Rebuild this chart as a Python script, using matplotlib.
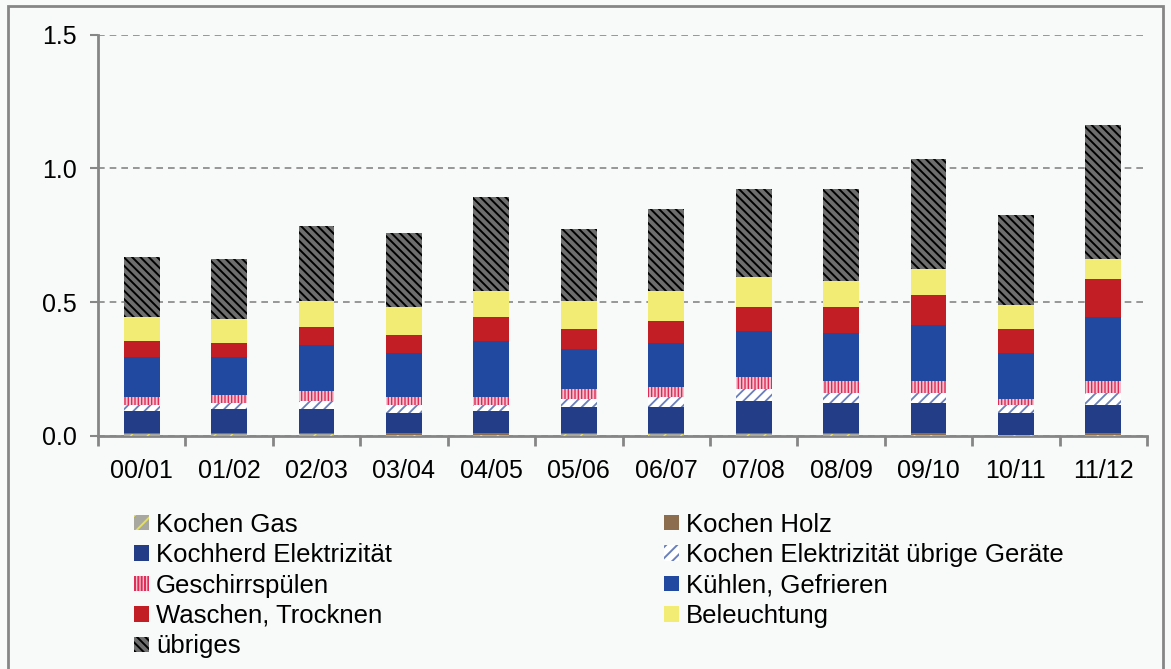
import numpy as np
import matplotlib
matplotlib.use("Agg")
import matplotlib.pyplot as plt
from matplotlib.patches import Patch, Rectangle

plt.rcParams['font.family'] = ['Liberation Sans', 'DejaVu Sans']

# Saison
jahre = ["00/01", "01/02", "02/03", "03/04", "04/05", "05/06",
         "06/07", "07/08", "08/09", "09/10", "10/11", "11/12"]

# Verbrauch je Verwendungszweck (gestapelt, von unten nach oben)
kochen_gas = [0.006, 0.006, 0.006, 0.002, 0.002, 0.006, 0.006, 0.006, 0.006, 0.002, 0.002, 0.002]
kochen_holz = [0.002, 0.002, 0.002, 0.006, 0.006, 0.002, 0.002, 0.002, 0.002, 0.006, 0.001, 0.006]
kochherd_elektr = [0.083, 0.090, 0.090, 0.075, 0.083, 0.098, 0.098, 0.121, 0.113, 0.113, 0.080, 0.105]
kochen_uebrige = [0.023, 0.023, 0.031, 0.030, 0.022, 0.030, 0.038, 0.045, 0.038, 0.038, 0.030, 0.046]
geschirr = [0.030, 0.031, 0.038, 0.031, 0.031, 0.038, 0.038, 0.045, 0.045, 0.045, 0.024, 0.045]
kuehlen = [0.149, 0.141, 0.171, 0.164, 0.209, 0.149, 0.163, 0.171, 0.179, 0.209, 0.171, 0.239]
waschen = [0.061, 0.052, 0.067, 0.067, 0.091, 0.076, 0.084, 0.091, 0.098, 0.112, 0.090, 0.142]
beleuchtung = [0.089, 0.090, 0.098, 0.105, 0.096, 0.105, 0.111, 0.111, 0.098, 0.097, 0.090, 0.075]
uebriges = [0.225, 0.225, 0.282, 0.278, 0.353, 0.269, 0.308, 0.331, 0.344, 0.414, 0.338, 0.503]

# name, werte, farbe, schraffur, schraffurfarbe, linienbreite
serien = [
    ("Kochen Gas", kochen_gas, '#a8a8a0', '//', '#e6df5a', 1.0),
    ("Kochen Holz", kochen_holz, '#8c6d4e', None, None, 1.0),
    ("Kochherd Elektrizität", kochherd_elektr, '#233e86', None, None, 1.0),
    ("Kochen Elektrizität übrige Geräte", kochen_uebrige, '#ffffff', '///', '#6a80bd', 1.3),
    ("Geschirrspülen", geschirr, '#f6c2cf', '|||||', '#e02a55', 1.0),
    ("Kühlen, Gefrieren", kuehlen, '#2149a0', None, None, 1.0),
    ("Waschen, Trocknen", waschen, '#c11f25', None, None, 1.0),
    ("Beleuchtung", beleuchtung, '#f2ec74', None, None, 1.0),
    ("übriges", uebriges, '#6e6e6e', '\\\\\\\\', '#000000', 1.4),
]

bg = '#f8f9f9'
grau = '#868686'

fig = plt.figure(figsize=(11.71, 6.69), dpi=100, facecolor=bg)
ax = fig.add_axes([0.0837, 0.349, 0.8958, 0.5987])
ax.set_facecolor(bg)

x = np.arange(len(jahre))
unten = np.zeros(len(jahre))
handles = []
for name, werte, farbe, hatch, hfarbe, hlw in serien:
    werte = np.array(werte)
    plt.rcParams['hatch.linewidth'] = hlw
    if hatch:
        bars = ax.bar(x, werte, 0.41, bottom=unten, color=farbe, hatch=hatch,
                      edgecolor=hfarbe, linewidth=0, zorder=3)
        h = Patch(facecolor=farbe, hatch=hatch, edgecolor=hfarbe, linewidth=0)
    else:
        bars = ax.bar(x, werte, 0.41, bottom=unten, color=farbe, linewidth=0, zorder=3)
        h = Patch(facecolor=farbe, linewidth=0)
    for b in list(bars) + [h]:
        if hasattr(b, 'set_hatch_linewidth'):
            b.set_hatch_linewidth(hlw)
    handles.append((name, h))
    unten += werte

ax.set_xlim(-0.5, len(jahre) - 0.5)
ax.set_ylim(0, 1.5)
ax.set_yticks([0, 0.5, 1.0, 1.5])
ax.set_yticklabels(["0.0", "0.5", "1.0", "1.5"])
ax.yaxis.grid(True, linestyle=(0, (4, 3)), color=grau, linewidth=1.2, zorder=0)

ax.set_xticks(x)
ax.set_xticklabels(jahre)
ax.set_xticks(np.arange(-0.5, len(jahre)), minor=True)
ax.tick_params(axis='x', which='major', length=0, pad=17, labelsize=18)
ax.tick_params(axis='x', which='minor', length=7, width=2, color=grau)
ax.tick_params(axis='y', length=6, width=1.5, color=grau, labelsize=18, pad=9)

for s in ['top', 'right']:
    ax.spines[s].set_visible(False)
for s in ['left', 'bottom']:
    ax.spines[s].set_color(grau)
    ax.spines[s].set_linewidth(2)

# Legende zeilenweise wie im Original
reihenfolge = [0, 2, 4, 6, 8, 1, 3, 5, 7]
leg = fig.legend([handles[i][1] for i in reihenfolge],
                 [handles[i][0] for i in reihenfolge],
                 loc='upper left', bbox_to_anchor=(0.106, 0.249), ncol=2,
                 frameon=False, fontsize=18.5, handlelength=0.55, handleheight=0.55,
                 handletextpad=0.3, labelspacing=0.25, columnspacing=10.6,
                 borderaxespad=0)

# Rahmen um die Grafik
fig.patches.append(Rectangle((8 / 1171, -0.02), 1 - 16 / 1171, 1.02 - 6 / 669,
                             transform=fig.transFigure, fill=False,
                             edgecolor=grau, linewidth=2))

fig.savefig("out.png", dpi=100, facecolor=bg)
